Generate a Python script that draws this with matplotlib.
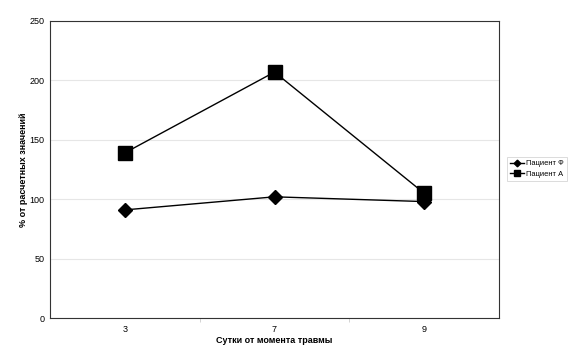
import matplotlib
matplotlib.use("Agg")
import matplotlib.pyplot as plt
import numpy as np

plt.rcParams['font.family'] = ['Liberation Sans', 'DejaVu Sans']

categories = ['3', '7', '9']
patient_f = [91, 102, 98]
patient_a = [139, 207, 105]
yticks = [0, 50, 100, 150, 200, 250]

fig = plt.figure(figsize=(5.76, 3.57), dpi=100)
ax = fig.add_axes([50/576, 1-318/357, 449/576, 297/357])

x = np.arange(len(categories))
ax.plot(x, patient_f, color='black', lw=1.0, marker='D', ms=7.5, label='Пациент Ф', zorder=3)
ax.plot(x, patient_a, color='black', lw=1.0, marker='s', ms=10.5, label='Пациент А', zorder=3)

ax.set_xlim(-0.5, len(categories) - 0.5)
ax.set_ylim(0, 250)
ax.set_yticks(yticks)
ax.set_xticks(x)
ax.set_xticklabels(categories)
ax.set_xticks(np.arange(0.5, len(categories) - 0.5, 1.0), minor=True)
ax.tick_params(axis='x', which='major', length=0, pad=5, labelsize=6.5)
ax.tick_params(axis='x', which='minor', length=3, color='#cccccc')
ax.tick_params(axis='y', length=0, pad=4, labelsize=6.5)
ax.grid(axis='y', color='#e6e6e6', lw=0.8)
ax.set_axisbelow(True)
for s in ax.spines.values():
    s.set_color('#333333')
    s.set_linewidth(0.8)

ax.set_xlabel('Сутки от момента травмы', fontsize=6.5, fontweight='bold', labelpad=1.5)
ax.set_ylabel('% от расчетных значений', fontsize=6.5, fontweight='bold')
ax.yaxis.set_label_coords(-22/449, 0.5)

leg = fig.legend(loc='upper left', bbox_to_anchor=(507/576, 1-157/357), fontsize=5.4,
                 frameon=True, fancybox=False, edgecolor='#cccccc', handlelength=1.9,
                 handletextpad=0.2, borderpad=0.4, labelspacing=0.4, markerscale=0.45,
                 borderaxespad=0)
leg.get_frame().set_linewidth(0.6)

fig.savefig('out.png', dpi=100)
